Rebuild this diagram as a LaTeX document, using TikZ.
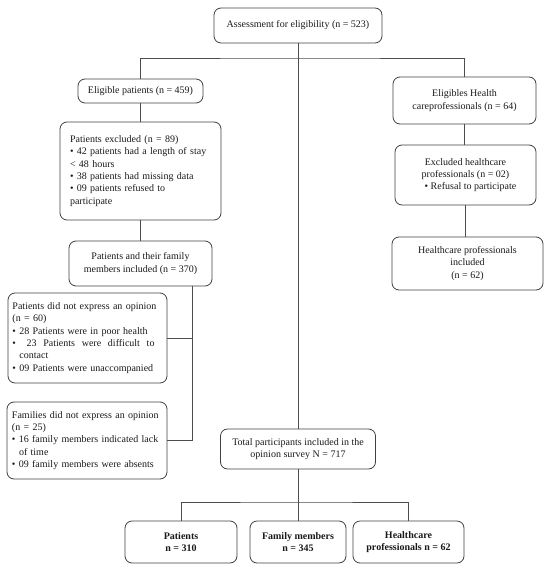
\documentclass[tikz,border=0pt]{standalone}
\usepackage{fontspec}
\setmainfont{Liberation Serif}
\begin{document}
\begin{tikzpicture}[x=1pt,y=-1pt,
  box/.style={draw=black!75, line width=0.8pt, rounded corners=7pt, align=center,
    inner xsep=3pt, inner ysep=2pt, font=\fontsize{10}{12.3}\selectfont, text=black!90},
  lbox/.style={box, align=left},
  bbox/.style={box, font=\fontsize{10}{12.3}\selectfont\bfseries, minimum height=42},
  ln/.style={draw=black!70, line width=0.8pt}]
\useasboundingbox (0,0) rectangle (550,569);
% top
\node[box, minimum width=168, minimum height=35] (top) at (298,25.5) {Assessment for eligibility (n = 523)};
% left column
\node[box, minimum width=125, minimum height=24] (elig) at (140.5,91) {Eligible patients (n = 459)};
\node[lbox, minimum height=98, text width=141, inner xsep=10] (excl) at (140.5,171)
 {Patients excluded (n = 89)\\
  • 42 patients had a length of stay\\
  {<} 48 hours\\
  • 38 patients had missing data\\
  • 09 patients refused to\\
  participate};
\node[box, minimum width=143, minimum height=45] (fam) at (140.5,263.5) {Patients and their family\\members included (n = 370)};
\node[lbox, minimum height=90, text width=150, inner xsep=4.5] (pdn) at (87.5,338)
 {Patients did not express an opinion\\
  (n = 60)\\
  • 28 Patients were in poor health\\
  \makebox[142pt][l]{•\hspace{4pt}\hfill 23\hfill Patients\hfill were\hfill difficult\hfill to}\\
  \makebox[7pt]{}contact\\
  • 09 Patients were unaccompanied};
\node[lbox, minimum height=77, text width=150, inner xsep=5] (fdn) at (87,440.5)
 {Families did not express an opinion\\
  (n = 25)\\
  • 16 family members indicated lack\\
  \makebox[7pt]{}of time\\
  • 09 family members were absents};
% right column
\node[box, minimum width=143, minimum height=47] (ehp) at (464.5,100.5) {Eligibles Health\\careprofessionals (n = 64)};
\node[box, minimum width=141, minimum height=60] (exh) at (465.5,175) {Excluded healthcare\\professionals (n = 02)\\\makebox[10pt]{}• Refusal to participate};
\node[box, minimum width=151, minimum height=53] (hpi) at (467.5,263.5) {Healthcare professionals\\included\\(n = 62)};
% total
\node[box, minimum width=155, minimum height=40] (tot) at (298,449) {Total participants included in the\\opinion survey N = 717};
% bottom
\node[bbox, minimum width=112] (bp) at (181,542) {Patients\\n = 310};
\node[bbox, minimum width=96] (bf) at (298,542) {Family members\\n = 345};
\node[bbox, minimum width=111] (bh) at (408.5,542) {Healthcare\\professionals n = 62};
% junctions
\coordinate (jt) at (298,58);
\coordinate (fv) at (192,0);
\coordinate (jb) at (298,502);
% connectors
\draw[ln] (top.south) -- (tot.north);
\draw[ln] (elig.north) |- (jt) -| (ehp.north);
\draw[ln] (elig.south) -- (excl.north);
\draw[ln] (excl.south) -- (fam.north);
\draw[ln] (fam.south -| fv) |- (fdn.east);
\draw[ln] (pdn.east) -- (pdn.east -| fv);
\draw[ln] (ehp.south) -- (ehp.south |- exh.north);
\draw[ln] (exh.south) -- (exh.south |- hpi.north);
\draw[ln] (tot.south) -- (bf.north);
\draw[ln] (bp.north) |- (jb) -| (bh.north);
\end{tikzpicture}
\end{document}
